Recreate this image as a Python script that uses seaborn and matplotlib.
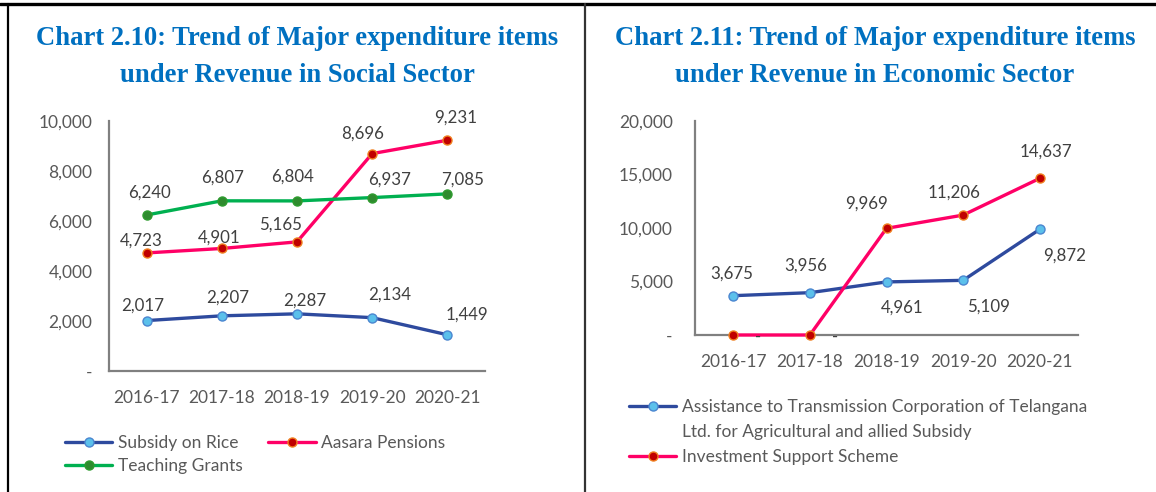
import seaborn as sns
import matplotlib.pyplot as plt
from matplotlib.lines import Line2D
from matplotlib.ticker import FuncFormatter
import pandas as pd

# data (Rs. crore)
years = ["2016-17", "2017-18", "2018-19", "2019-20", "2020-21"]

rice_subsidy = [2017, 2207, 2287, 2134, 1449]
aasara_pensions = [4723, 4901, 5165, 8696, 9231]
teaching_grants = [6240, 6807, 6804, 6937, 7085]

transco_subsidy = [3675, 3956, 4961, 5109, 9872]
investment_support = [0, 0, 9969, 11206, 14637]

social_ticks = [0, 2000, 4000, 6000, 8000, 10000]
economic_ticks = [0, 5000, 10000, 15000, 20000]

sns.set_theme(style="white")
plt.rcParams["font.family"] = ["Lato", "DejaVu Sans"]

W, H = 1156, 492
fig = plt.figure(figsize=(W / 100, H / 100), dpi=100)

TITLE_COL = "#0070C0"
TICK_COL = "#595959"
LABEL_COL = "#404040"
AXIS_COL = "#808080"

styles = {
    "blue": dict(color="#2E4A9E", mfc="#5BC0EB", mec="#4A86D0"),
    "pink": dict(color="#FF0066", mfc="#C00000", mec="#F08020"),
    "green": dict(color="#00B050", mfc="#2E8B2E", mec="#2E9B2E"),
}


def px_axes(left, right, top, bottom):
    return fig.add_axes([left / W, 1 - bottom / H, (right - left) / W, (bottom - top) / H])


def fmt(v, pos=None):
    return "-" if v == 0 else f"{v:,.0f}"


def draw_series(ax, values, label, style, offsets):
    df = pd.DataFrame({"year": years, "value": values})
    sns.lineplot(data=df, x="year", y="value", ax=ax, label=label, sort=False,
                 color=style["color"], linewidth=2.4, marker="o", markersize=6.5,
                 markerfacecolor=style["mfc"], markeredgecolor=style["mec"],
                 markeredgewidth=1.0, clip_on=False, zorder=3)
    for i, (v, (dx, dy)) in enumerate(zip(values, offsets)):
        ax.annotate(fmt(v), (i, v), xytext=(dx, dy), textcoords="offset pixels",
                    ha="center", va="center", fontsize=12.2, color=LABEL_COL)


def style_axes(ax, ticks, pad, xpad):
    ax.set_xlim(-0.5, 4.5)
    ax.set_ylim(ticks[0], ticks[-1])
    ax.set_yticks(ticks)
    ax.yaxis.set_major_formatter(FuncFormatter(fmt))
    ax.set_xlabel("")
    ax.set_ylabel("")
    for s in ["top", "right"]:
        ax.spines[s].set_visible(False)
    for s in ["left", "bottom"]:
        ax.spines[s].set_color(AXIS_COL)
        ax.spines[s].set_linewidth(1.6)
        ax.spines[s].set_zorder(2)
    ax.tick_params(axis="y", length=0, pad=pad, labelsize=12.5, labelcolor=TICK_COL)
    ax.tick_params(axis="x", length=0, pad=xpad, labelsize=12.5, labelcolor=TICK_COL)
    ax.set_facecolor("none")


# left panel: social sector
ax1 = px_axes(109, 485, 121, 371)
draw_series(ax1, rice_subsidy, "Subsidy on Rice", styles["blue"],
            [(-4, 15), (6, 18), (8, 13), (17, 23), (20, 20)])
draw_series(ax1, aasara_pensions, "Aasara Pensions", styles["pink"],
            [(-5, 12), (-3, 11), (-16, 17), (-10, 20), (8, 23)])
draw_series(ax1, teaching_grants, "Teaching Grants", styles["green"],
            [(3, 22), (1, 23), (-5, 24), (17, 18), (15, 14)])
style_axes(ax1, social_ticks, 12, 14)

h, l = ax1.get_legend_handles_labels()
order = [0, 2, 1]
ax1.legend([h[i] for i in order], [l[i] for i in order], ncol=2,
           loc="upper left", bbox_to_anchor=(56 / W, 1 - 426 / H),
           bbox_transform=fig.transFigure, frameon=False, fontsize=12.5,
           labelcolor=TICK_COL, handlelength=2.75, handletextpad=0.3,
           columnspacing=1.5, labelspacing=0.45, borderpad=0)

# right panel: economic sector
ax2 = px_axes(695, 1078, 121, 335)
draw_series(ax2, transco_subsidy,
            "Assistance to Transmission Corporation of Telangana",
            styles["blue"], [(-2, 22), (-4, 27), (16, -26), (25, -26), (25, -26)])
draw_series(ax2, investment_support, "Investment Support Scheme", styles["pink"],
            [(25, -2), (25, -2), (-20, 25), (-9, 22), (6, 27)])
style_axes(ax2, economic_ticks, 16, 14)

# long label wraps onto a second line; keep the marker on the first line
h2, l2 = ax2.get_legend_handles_labels()
blank = Line2D([], [], linestyle="none")
ax2.legend([h2[0], blank, h2[1]],
           [l2[0], "Ltd. for Agricultural and allied Subsidy", l2[1]],
           loc="upper left", bbox_to_anchor=(620 / W, 1 - 390 / H),
           bbox_transform=fig.transFigure, frameon=False, fontsize=12.5,
           labelcolor=TICK_COL, handlelength=2.75, handletextpad=0.3,
           labelspacing=0.52, borderpad=0)

# titles
title_kw = dict(ha="center", va="center", fontsize=19.2, fontweight="bold",
                color=TITLE_COL, family="Liberation Serif", linespacing=1.6)
fig.text(297 / W, 1 - 57 / H,
         "Chart 2.10: Trend of Major expenditure items\nunder Revenue in Social Sector", **title_kw)
fig.text(875 / W, 1 - 57 / H,
         "Chart 2.11: Trend of Major expenditure items\nunder Revenue in Economic Sector", **title_kw)

# page borders
fig.add_artist(Line2D([0, 1], [1 - 4 / H, 1 - 4 / H], transform=fig.transFigure, color="black", lw=2.4))
fig.add_artist(Line2D([8 / W, 8 / W], [0, 1 - 4 / H], transform=fig.transFigure, color="black", lw=1.6))
fig.add_artist(Line2D([585 / W, 585 / W], [0, 1 - 4 / H], transform=fig.transFigure, color="#333333", lw=1.6))

fig.savefig("out.png", dpi=100)
